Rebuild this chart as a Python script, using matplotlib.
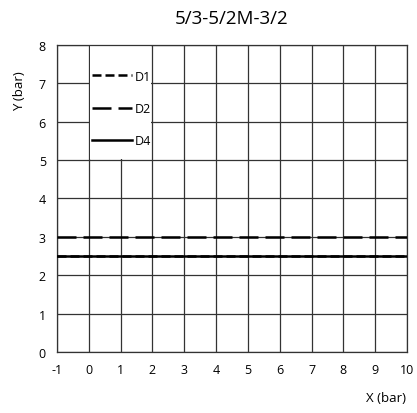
import matplotlib
matplotlib.use("Agg")
import matplotlib.pyplot as plt
from matplotlib.patches import Rectangle

plt.rcParams['font.family'] = ['Open Sans', 'DejaVu Sans']
plt.rcParams['axes.unicode_minus'] = False

x_range = [-1, 10]
series_names = ["D1", "D2", "D4"]
series_y = [2.5, 3.0, 2.5]
series_styles = [(0, (3.6, 1.6)), (0, (7.6, 2.8)), "-"]
x_ticks = list(range(-1, 11))
y_ticks = list(range(0, 9))

fig = plt.figure(figsize=(4.17, 4.14), dpi=100)
ax = fig.add_axes([0.1367, 0.1473, 0.8393, 0.7417])

for name, yv, ls in zip(series_names, series_y, series_styles):
    ax.plot(x_range, [yv, yv], color="black", linestyle=ls, linewidth=1.8, label=name, zorder=3)

ax.set_xlim(-1, 10)
ax.set_ylim(0, 8)
ax.set_xticks(x_ticks)
ax.set_yticks(y_ticks)
ax.grid(True, color="#333333", linewidth=0.9)
ax.set_axisbelow(True)
for s in ax.spines.values():
    s.set_color("#333333")
    s.set_linewidth(0.9)
ax.tick_params(length=0, labelsize=9, pad=8)

# white legend background area
ax.add_patch(Rectangle((0.04, 5.04), 1.92, 2.92, facecolor="white", edgecolor="none", zorder=1))

ax.set_title("5/3-5/2M-3/2", fontsize=13.5, pad=16)
fig.text(0.048, 0.78, "Y (bar)", rotation=90, fontsize=9.5, ha="center", va="center")
fig.text(0.925, 0.038, "X (bar)", fontsize=9.5, ha="center", va="center")

leg = ax.legend(loc="upper left", bbox_to_anchor=(0.1, 0.92), frameon=False,
                fontsize=9, handlelength=3.2, handletextpad=0.25, labelspacing=1.55,
                borderpad=0.0, borderaxespad=0.0)

fig.savefig("out.png", dpi=100)
